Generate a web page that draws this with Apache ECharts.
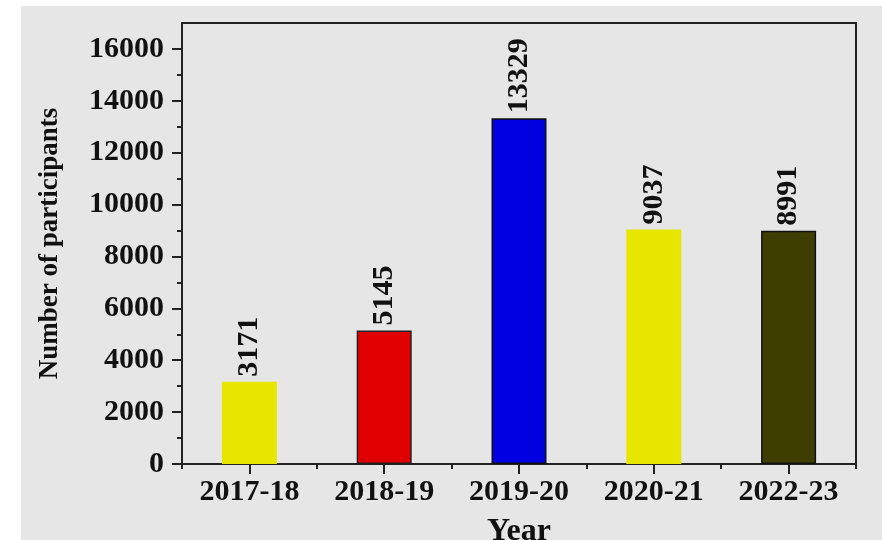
<!DOCTYPE html>
<html>
<head>
<meta charset="utf-8">
<script src="https://cdn.jsdelivr.net/npm/echarts@6/dist/echarts.min.js"></script>
<style>
html,body{margin:0;padding:0;background:#ffffff;}
#bg{position:absolute;left:21px;top:6px;right:0;bottom:0;background:#e6e6e6;}
#chart{position:absolute;left:0;top:0;width:882px;height:540px;}
</style>
</head>
<body>
<div id="bg"></div>
<div id="chart"></div>
<script>
const categories = ['2017-18', '2018-19', '2019-20', '2020-21', '2022-23'];
const participants = [3171, 5145, 13329, 9037, 8991];
const yTicks = [0, 2000, 4000, 6000, 8000, 10000, 12000, 14000, 16000];
const yMinorTicks = [1000, 3000, 5000, 7000, 9000, 11000, 13000, 15000];
const barColors = ['#e6e600', '#e00000', '#0000e0', '#e6e600', '#3e3e00'];
const barBorders = ['#e6e600', '#222222', '#111111', '#e6e600', '#111111'];

const FONT = '"Liberation Serif", "Times New Roman", serif';
const chart = echarts.init(document.getElementById('chart'), null, {renderer: 'canvas'});
chart.setOption({
  backgroundColor: 'transparent',
  animation: false,
  grid: {left: 182, right: 26, top: 23, bottom: 76, show: true, borderColor: '#222', borderWidth: 2, backgroundColor: 'transparent', containLabel: false, outerBoundsMode: 'none'},
  xAxis: [{
    type: 'category', data: categories, position: 'bottom',
    axisLine: {show: true, lineStyle: {color: '#222', width: 2}},
    axisTick: {show: true, alignWithLabel: true, length: 10, lineStyle: {color: '#222', width: 2}},
    axisLabel: {fontFamily: FONT, fontWeight: 'bold', fontSize: 30, color: '#111', margin: 13},
    name: 'Year', nameLocation: 'middle', nameGap: 52,
    nameTextStyle: {fontFamily: FONT, fontWeight: 'bold', fontSize: 32, color: '#111'},
    splitLine: {show: false}
  }, {
    type: 'category', data: categories, position: 'bottom',
    axisLine: {show: false},
    axisTick: {show: true, alignWithLabel: false, length: 5, lineStyle: {color: '#222', width: 2}},
    axisLabel: {show: false},
    splitLine: {show: false}
  }],
  yAxis: [{
    type: 'value', min: 0, max: 17000, position: 'left',
    axisLine: {show: true, lineStyle: {color: '#222', width: 2}},
    axisTick: {show: true, length: 10, customValues: yTicks, lineStyle: {color: '#222', width: 2}},
    axisLabel: {customValues: yTicks, formatter: v => String(v), fontFamily: FONT, fontWeight: 'bold', fontSize: 30, color: '#111', margin: 18},
    splitLine: {show: false},
    name: 'Number of participants', nameLocation: 'middle', nameGap: 118, nameRotate: 90,
    nameTextStyle: {fontFamily: FONT, fontWeight: 'bold', fontSize: 27, color: '#111'}
  }, {
    type: 'value', min: 0, max: 17000, position: 'left',
    axisLine: {show: false},
    axisTick: {show: true, length: 5, customValues: yMinorTicks, lineStyle: {color: '#222', width: 2}},
    axisLabel: {show: false},
    splitLine: {show: false}
  }],
  series: [{
    type: 'bar', xAxisIndex: 0, yAxisIndex: 0, barWidth: 55,
    data: participants.map((v, i) => ({value: v, itemStyle: {color: barColors[i], borderColor: barBorders[i], borderWidth: 1.5}})),
    label: {
      show: true, position: 'top', rotate: 90, align: 'left', verticalAlign: 'middle', distance: 5,
      fontFamily: FONT, fontWeight: 'bold', fontSize: 30, color: '#111'
    }
  }]
});
</script>
</body>
</html>
